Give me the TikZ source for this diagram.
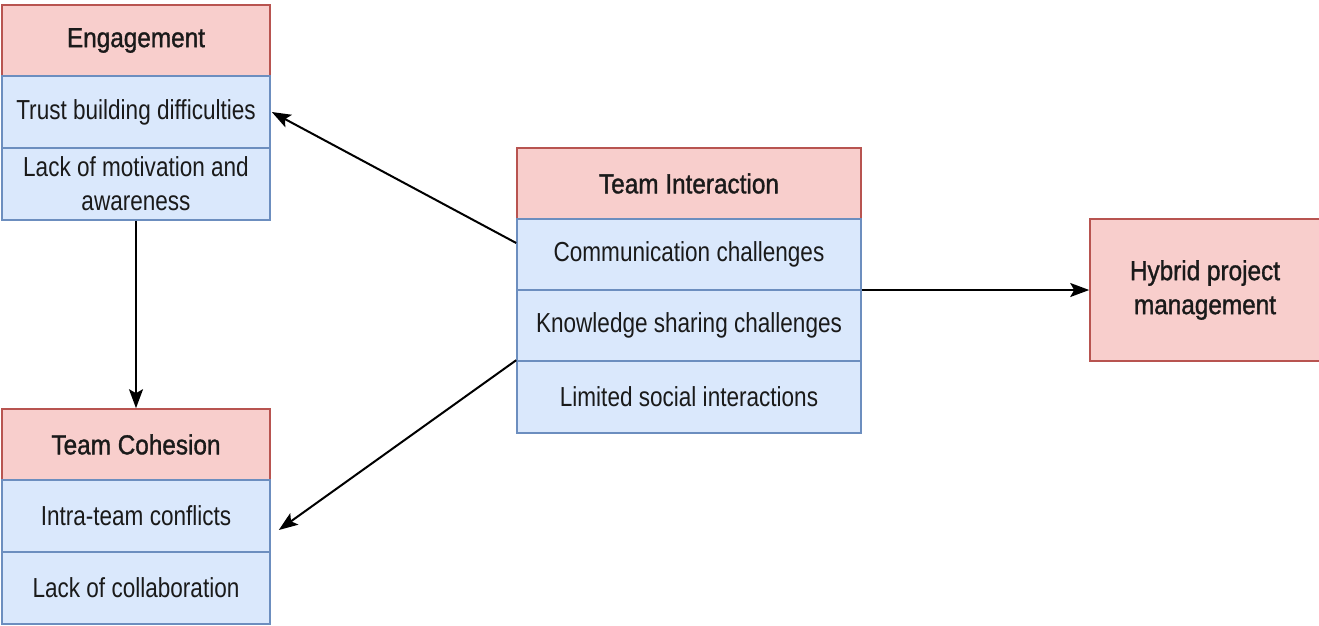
\documentclass[tikz,border=0pt]{standalone}
\usepackage{fontspec}
\setmainfont{Liberation Sans}[FakeStretch=0.82]
\newfontfamily\hdrfont{Liberation Sans}[FakeStretch=0.885, FakeBold=1.2]
\usetikzlibrary{arrows.meta}
\definecolor{hdrfill}{HTML}{F8CECC}
\definecolor{hdrline}{HTML}{B85450}
\definecolor{rowfill}{HTML}{DAE8FC}
\definecolor{rowline}{HTML}{6C8EBF}
\definecolor{txt}{HTML}{1A1A1A}
\tikzset{
  box/.style={rectangle, inner sep=0pt, line width=1.6pt, text=txt, align=center,
    font=\fontsize{27.5}{34}\selectfont},
  hdr/.style={box, fill=hdrfill, draw=hdrline, font=\hdrfont\fontsize{27.5}{34}\selectfont},
  row/.style={box, fill=rowfill, draw=rowline},
  lw/.style={minimum width=268pt},
  mw/.style={minimum width=344pt},
  conn/.style={line width=2pt, black, -{Stealth[length=19pt,width=14pt,inset=4pt]}}
}
\begin{document}
\begin{tikzpicture}[x=1pt,y=-1pt]
\useasboundingbox (0,0) rectangle (1319,625);
% Engagement
\node[hdr, lw, minimum height=71pt] (eng) at (136,40.5) {Engagement};
\node[row, lw, minimum height=72pt] (trust) at (136,112) {Trust building difficulties};
\node[row, lw, minimum height=72pt] (motiv) at (136,184) {Lack of motivation and\\awareness};
% Team Cohesion
\node[hdr, lw, minimum height=71pt] (coh) at (136,444.5) {Team Cohesion};
\node[row, lw, minimum height=72pt] (intra) at (136,516) {Intra-team conflicts};
\node[row, lw, minimum height=72pt] (collab) at (136,588) {Lack of collaboration};
% Team Interaction
\node[hdr, mw, minimum height=71pt] (ti) at (689,183.5) {Team Interaction};
\node[row, mw, minimum height=71pt] (comm) at (689,254.5) {Communication challenges};
\node[row, mw, minimum height=71pt] (know) at (689,325.5) {Knowledge sharing challenges};
\node[row, mw, minimum height=72pt] (lim) at (689,397) {Limited social interactions};
% Hybrid
\node[hdr, minimum width=230pt, minimum height=142pt] (hyb) at (1205,290) {Hybrid project\\management};
% connectors
\draw[conn] ([yshift=11.5pt]comm.west) -- ([xshift=1pt]trust.east);
\draw[conn] (lim.north west) -- ([xshift=8pt,yshift=-14pt]intra.east);
\draw[conn] (motiv.south) -- (coh.north);
\draw[conn] (hyb.west -| comm.east) -- (hyb.west);
\end{tikzpicture}
\end{document}
